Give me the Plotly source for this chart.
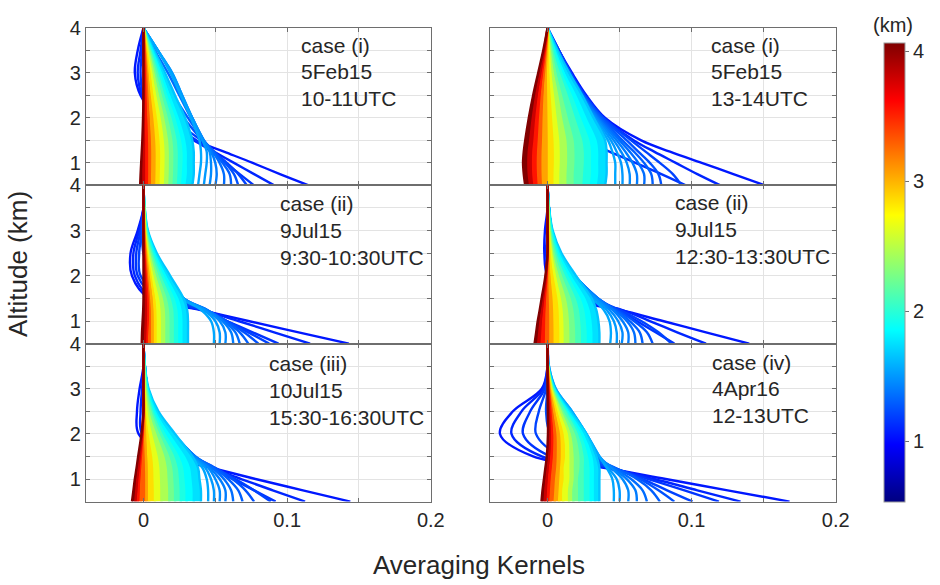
import plotly.graph_objects as go

# Altitude grid (km) on which every averaging-kernel row is tabulated
ALT = [0.5, 0.75, 1.0, 1.25, 1.5, 2.0, 2.5, 3.0, 3.5, 4.0]

# Retrieval level (km) of each kernel row, lowest first; sets the row colour
LEVELS = [1.05, 1.10, 1.15, 1.20, 1.25, 1.30, 1.35, 1.40, 1.45, 1.50, 1.55,
          1.65, 1.75, 1.85, 1.95, 2.10, 2.25, 2.45, 2.65, 2.85, 3.05, 3.30,
          3.55, 3.80, 4.05]

# Averaging-kernel rows, one list per retrieval level (values at ALT)
AK_5FEB15_10_11 = [
    [0.115, 0.095, 0.076, 0.056, 0.036, 0.010, -0.002, -0.006, -0.004, 0.0],
    [0.091, 0.077, 0.063, 0.049, 0.035, 0.008, -0.001, -0.004, -0.002, 0.0],
    [0.077, 0.067, 0.057, 0.047, 0.037, 0.012, 0.000, -0.002, -0.001, 0.0],
    [0.072, 0.066, 0.058, 0.049, 0.040, 0.020, 0.006, 0.001, 0.000, 0.0],
    [0.066, 0.063, 0.057, 0.049, 0.041, 0.028, 0.016, 0.008, 0.003, 0.0],
    [0.061, 0.060, 0.055, 0.049, 0.042, 0.031, 0.021, 0.013, 0.006, 0.0],
    [0.056, 0.056, 0.053, 0.048, 0.042, 0.033, 0.025, 0.017, 0.008, 0.0],
    [0.050, 0.051, 0.050, 0.047, 0.042, 0.034, 0.026, 0.019, 0.010, 0.0],
    [0.046, 0.047, 0.047, 0.046, 0.042, 0.034, 0.027, 0.020, 0.010, 0.0],
    [0.042, 0.043, 0.044, 0.044, 0.041, 0.034, 0.027, 0.020, 0.010, 0.0],
    [0.038, 0.039, 0.040, 0.040, 0.039, 0.033, 0.026, 0.019, 0.010, 0.0],
    [0.034, 0.035, 0.035, 0.035, 0.034, 0.029, 0.022, 0.015, 0.0075, 0.0],
    [0.030, 0.031, 0.031, 0.031, 0.030, 0.0255, 0.0195, 0.0135, 0.0066, 0.0],
    [0.027, 0.0275, 0.028, 0.028, 0.027, 0.023, 0.0175, 0.012, 0.006, 0.0],
    [0.024, 0.0245, 0.0247, 0.0247, 0.024, 0.0204, 0.0156, 0.0108, 0.0053, 0.0],
    [0.021, 0.0214, 0.0216, 0.0216, 0.021, 0.0179, 0.0137, 0.0095, 0.0046, 0.0],
    [0.018, 0.0184, 0.0185, 0.0185, 0.018, 0.0153, 0.0117, 0.0081, 0.004, 0.0],
    [0.015, 0.0153, 0.0155, 0.0155, 0.015, 0.0128, 0.0098, 0.0068, 0.0033, 0.0],
    [0.012, 0.0122, 0.0124, 0.0124, 0.012, 0.0102, 0.0078, 0.0054, 0.0026, 0.0],
    [0.009, 0.0092, 0.0093, 0.0093, 0.009, 0.0077, 0.0059, 0.0041, 0.002, 0.0],
    [0.006, 0.0061, 0.0062, 0.0062, 0.006, 0.0051, 0.0039, 0.0027, 0.0013, 0.0],
    [0.004, 0.0041, 0.0041, 0.0041, 0.004, 0.0034, 0.0026, 0.0018, 0.0009, 0.0],
    [0.002, 0.002, 0.002, 0.002, 0.002, 0.0017, 0.0013, 0.0009, 0.0004, 0.0],
    [0.000, 0.000, 0.000, 0.000, 0.000, 0.000, 0.000, 0.000, 0.000, 0.0],
    [-0.0023, -0.002, -0.0016, -0.0012, -0.0008, -0.0003, 0.0, 0.0, 0.0, 0.0],
]

AK_5FEB15_13_14 = [
    [0.151, 0.129, 0.107, 0.085, 0.065, 0.040, 0.027, 0.017, 0.008, 0.0],
    [0.120, 0.104, 0.089, 0.074, 0.060, 0.039, 0.026, 0.016, 0.008, 0.0],
    [0.096, 0.079, 0.061, 0.043, 0.026, 0.010, 0.002, 0.000, 0.000, 0.0],
    [0.093, 0.087, 0.078, 0.068, 0.058, 0.039, 0.026, 0.016, 0.008, 0.0],
    [0.079, 0.077, 0.071, 0.063, 0.055, 0.038, 0.025, 0.016, 0.007, 0.0],
    [0.073, 0.072, 0.067, 0.060, 0.052, 0.037, 0.025, 0.015, 0.007, 0.0],
    [0.067, 0.067, 0.063, 0.057, 0.050, 0.036, 0.024, 0.015, 0.007, 0.0],
    [0.062, 0.062, 0.059, 0.054, 0.048, 0.035, 0.024, 0.015, 0.007, 0.0],
    [0.057, 0.057, 0.055, 0.051, 0.046, 0.034, 0.023, 0.014, 0.007, 0.0],
    [0.052, 0.052, 0.051, 0.048, 0.044, 0.033, 0.022, 0.014, 0.006, 0.0],
    [0.047, 0.047, 0.047, 0.045, 0.042, 0.032, 0.022, 0.013, 0.006, 0.0],
    [0.040, 0.041, 0.041, 0.041, 0.040, 0.032, 0.024, 0.015, 0.007, 0.0],
    [0.035, 0.036, 0.036, 0.036, 0.035, 0.028, 0.021, 0.013, 0.006, 0.0],
    [0.030, 0.031, 0.031, 0.031, 0.030, 0.024, 0.018, 0.011, 0.005, 0.0],
    [0.025, 0.0255, 0.026, 0.026, 0.025, 0.020, 0.015, 0.0095, 0.0045, 0.0],
    [0.019, 0.019, 0.0195, 0.0195, 0.019, 0.015, 0.011, 0.007, 0.0034, 0.0],
    [0.014, 0.014, 0.0144, 0.0144, 0.014, 0.011, 0.0084, 0.0053, 0.0025, 0.0],
    [0.009, 0.009, 0.0093, 0.0093, 0.009, 0.0072, 0.0054, 0.0034, 0.0016, 0.0],
    [0.005, 0.005, 0.0052, 0.0052, 0.005, 0.004, 0.003, 0.0019, 0.0009, 0.0],
    [0.001, 0.001, 0.001, 0.001, 0.001, 0.0008, 0.0006, 0.0004, 0.0002, 0.0],
    [-0.003, -0.0033, -0.0034, -0.0033, -0.003, -0.0026, -0.002, -0.0013, -0.0006, 0.0],
    [-0.006, -0.0065, -0.0067, -0.0065, -0.006, -0.0051, -0.0039, -0.0025, -0.0012, 0.0],
    [-0.009, -0.0098, -0.010, -0.0098, -0.009, -0.0077, -0.0059, -0.0038, -0.0018, 0.0],
    [-0.012, -0.013, -0.0133, -0.013, -0.012, -0.0102, -0.0078, -0.005, -0.0024, 0.0],
    [-0.0155, -0.0165, -0.017, -0.0165, -0.0155, -0.013, -0.010, -0.0065, -0.003, 0.0],
]

AK_9JUL15_0930_1030 = [
    [0.143, 0.108, 0.073, 0.039, 0.004, -0.008, -0.009, -0.004, 0.0, 0.0],
    [0.116, 0.091, 0.066, 0.040, 0.006, -0.006, -0.007, -0.003, 0.0, 0.0],
    [0.094, 0.076, 0.058, 0.040, 0.010, -0.004, -0.005, -0.002, 0.0, 0.0],
    [0.0875, 0.073, 0.058, 0.041, 0.014, -0.002, -0.003, -0.001, 0.0, 0.0],
    [0.080, 0.070, 0.058, 0.043, 0.022, 0.006, 0.000, -0.001, 0.0, 0.0],
    [0.073, 0.067, 0.057, 0.044, 0.026, 0.012, 0.003, 0.000, 0.0, 0.0],
    [0.067, 0.064, 0.056, 0.044, 0.028, 0.016, 0.006, 0.001, 0.0, 0.0],
    [0.0625, 0.061, 0.055, 0.044, 0.028, 0.017, 0.008, 0.002, 0.0, 0.0],
    [0.057, 0.057, 0.053, 0.043, 0.028, 0.017, 0.008, 0.002, 0.0005, 0.0],
    [0.053, 0.053, 0.050, 0.042, 0.028, 0.017, 0.008, 0.002, 0.0005, 0.0],
    [0.049, 0.049, 0.047, 0.040, 0.027, 0.017, 0.008, 0.002, 0.0005, 0.0],
    [0.031, 0.031, 0.031, 0.0304, 0.0279, 0.0186, 0.0093, 0.0031, 0.0009, 0.0],
    [0.028, 0.028, 0.028, 0.0274, 0.0252, 0.0168, 0.0084, 0.0028, 0.0008, 0.0],
    [0.025, 0.025, 0.025, 0.0245, 0.0225, 0.015, 0.0075, 0.0025, 0.0008, 0.0],
    [0.022, 0.022, 0.022, 0.0216, 0.0198, 0.0132, 0.0066, 0.0022, 0.0007, 0.0],
    [0.019, 0.019, 0.019, 0.0186, 0.0171, 0.0114, 0.0057, 0.0019, 0.0006, 0.0],
    [0.016, 0.016, 0.016, 0.0157, 0.0144, 0.0096, 0.0048, 0.0016, 0.0005, 0.0],
    [0.013, 0.013, 0.013, 0.0127, 0.0117, 0.0078, 0.0039, 0.0013, 0.0004, 0.0],
    [0.010, 0.010, 0.010, 0.0098, 0.009, 0.006, 0.003, 0.001, 0.0003, 0.0],
    [0.008, 0.008, 0.008, 0.0078, 0.0072, 0.0048, 0.0024, 0.0008, 0.0002, 0.0],
    [0.006, 0.006, 0.006, 0.0059, 0.0054, 0.0036, 0.0018, 0.0006, 0.0002, 0.0],
    [0.004, 0.004, 0.004, 0.0039, 0.0036, 0.0024, 0.0012, 0.0004, 0.0001, 0.0],
    [0.002, 0.0025, 0.003, 0.003, 0.0028, 0.0016, 0.0006, 0.0002, 0.0, 0.0],
    [0.001, 0.0013, 0.0016, 0.0017, 0.0015, 0.0008, 0.0003, 0.0, 0.0, 0.0],
    [-0.0012, -0.001, -0.0006, -0.0002, 0.0, 0.0, 0.0, 0.0, 0.0, 0.0],
]

AK_9JUL15_1230_1330 = [
    [0.140, 0.110, 0.080, 0.050, 0.015, 0.000, -0.0022, -0.0018, 0.0, 0.0],
    [0.110, 0.090, 0.071, 0.051, 0.020, 0.002, -0.001, 0.0, 0.0, 0.0],
    [0.088, 0.075, 0.062, 0.049, 0.025, 0.006, 0.001, 0.0, 0.0, 0.0],
    [0.086, 0.077, 0.065, 0.050, 0.032, 0.012, 0.004, 0.001, 0.0, 0.0],
    [0.073, 0.069, 0.060, 0.048, 0.035, 0.018, 0.008, 0.002, 0.0005, 0.0],
    [0.066, 0.064, 0.057, 0.047, 0.035, 0.019, 0.009, 0.003, 0.001, 0.0],
    [0.061, 0.060, 0.055, 0.046, 0.035, 0.019, 0.009, 0.003, 0.001, 0.0],
    [0.056, 0.056, 0.052, 0.045, 0.035, 0.019, 0.009, 0.003, 0.001, 0.0],
    [0.0515, 0.052, 0.049, 0.043, 0.034, 0.019, 0.009, 0.003, 0.001, 0.0],
    [0.048, 0.048, 0.046, 0.041, 0.033, 0.018, 0.009, 0.003, 0.001, 0.0],
    [0.0435, 0.044, 0.043, 0.039, 0.031, 0.018, 0.008, 0.003, 0.001, 0.0],
    [0.036, 0.036, 0.0353, 0.0338, 0.0306, 0.0198, 0.0097, 0.0036, 0.0011, 0.0],
    [0.032, 0.032, 0.0314, 0.0301, 0.0272, 0.0176, 0.0086, 0.0032, 0.001, 0.0],
    [0.028, 0.028, 0.0274, 0.0263, 0.0238, 0.0154, 0.0076, 0.0028, 0.0008, 0.0],
    [0.024, 0.024, 0.0235, 0.0226, 0.0204, 0.0132, 0.0065, 0.0024, 0.0007, 0.0],
    [0.020, 0.020, 0.0196, 0.0188, 0.017, 0.011, 0.0054, 0.002, 0.0006, 0.0],
    [0.016, 0.016, 0.0157, 0.015, 0.0136, 0.0088, 0.0043, 0.0016, 0.0005, 0.0],
    [0.012, 0.012, 0.0118, 0.0113, 0.0102, 0.0066, 0.0032, 0.0012, 0.0004, 0.0],
    [0.009, 0.009, 0.0088, 0.0085, 0.0077, 0.005, 0.0024, 0.0009, 0.0003, 0.0],
    [0.005, 0.005, 0.0049, 0.0047, 0.0043, 0.0028, 0.0014, 0.0005, 0.0002, 0.0],
    [0.002, 0.002, 0.002, 0.0019, 0.0017, 0.0011, 0.0005, 0.0002, 0.0, 0.0],
    [-0.001, -0.0009, -0.0008, -0.0006, -0.0005, -0.0002, 0.0, 0.0, 0.0, 0.0],
    [-0.004, -0.0035, -0.003, -0.0024, -0.0018, -0.0007, 0.0, 0.0, 0.0, 0.0],
    [-0.0065, -0.0057, -0.0049, -0.0039, -0.003, -0.0011, 0.0, 0.0, 0.0, 0.0],
    [-0.009, -0.0079, -0.0068, -0.0054, -0.0041, -0.0015, 0.0, 0.0, 0.0, 0.0],
]

AK_10JUL15_1530_1630 = [
    [0.144, 0.111, 0.078, 0.047, 0.018, -0.0034, -0.0045, -0.0027, 0.0, 0.0],
    [0.1125, 0.090, 0.068, 0.047, 0.020, -0.001, -0.002, -0.001, 0.0, 0.0],
    [0.092, 0.077, 0.062, 0.047, 0.024, 0.003, 0.000, 0.0, 0.0, 0.0],
    [0.0886, 0.077, 0.064, 0.049, 0.030, 0.008, 0.002, 0.0, 0.0, 0.0],
    [0.077, 0.071, 0.062, 0.050, 0.035, 0.016, 0.006, 0.001, 0.0, 0.0],
    [0.069, 0.066, 0.059, 0.049, 0.036, 0.020, 0.008, 0.002, 0.0005, 0.0],
    [0.0625, 0.061, 0.056, 0.048, 0.036, 0.021, 0.009, 0.003, 0.001, 0.0],
    [0.057, 0.057, 0.053, 0.046, 0.036, 0.021, 0.009, 0.003, 0.001, 0.0],
    [0.053, 0.053, 0.050, 0.045, 0.035, 0.021, 0.009, 0.003, 0.001, 0.0],
    [0.049, 0.049, 0.047, 0.043, 0.034, 0.021, 0.009, 0.003, 0.001, 0.0],
    [0.045, 0.045, 0.044, 0.041, 0.033, 0.020, 0.009, 0.003, 0.001, 0.0],
    [0.040, 0.040, 0.039, 0.038, 0.034, 0.022, 0.0104, 0.0036, 0.001, 0.0],
    [0.035, 0.035, 0.0343, 0.0333, 0.030, 0.0193, 0.0091, 0.0032, 0.0009, 0.0],
    [0.030, 0.030, 0.0294, 0.0285, 0.0258, 0.0165, 0.0078, 0.0027, 0.0008, 0.0],
    [0.026, 0.026, 0.0255, 0.0247, 0.0224, 0.0143, 0.0068, 0.0023, 0.0007, 0.0],
    [0.022, 0.022, 0.0216, 0.0209, 0.0189, 0.0121, 0.0057, 0.002, 0.0006, 0.0],
    [0.018, 0.018, 0.0176, 0.0171, 0.0155, 0.0099, 0.0047, 0.0016, 0.0005, 0.0],
    [0.0125, 0.0125, 0.0123, 0.0119, 0.0108, 0.0069, 0.0033, 0.0011, 0.0003, 0.0],
    [0.008, 0.008, 0.0078, 0.0076, 0.0069, 0.0044, 0.0021, 0.0007, 0.0002, 0.0],
    [0.004, 0.004, 0.0039, 0.0038, 0.0034, 0.0022, 0.001, 0.0004, 0.0001, 0.0],
    [0.002, 0.002, 0.002, 0.0019, 0.0017, 0.0011, 0.0005, 0.0002, 0.0, 0.0],
    [-0.002, -0.0018, -0.0015, -0.0012, -0.0009, -0.0003, 0.0, 0.0, 0.0, 0.0],
    [-0.004, -0.0035, -0.003, -0.0024, -0.0018, -0.0007, 0.0, 0.0, 0.0, 0.0],
    [-0.0057, -0.005, -0.0043, -0.0034, -0.0026, -0.001, 0.0, 0.0, 0.0, 0.0],
    [-0.008, -0.007, -0.006, -0.0048, -0.0037, -0.0014, 0.0, 0.0, 0.0, 0.0],
]

AK_4APR16_12_13 = [
    [0.168, 0.125, 0.082, 0.039, -0.010, -0.033, -0.024, -0.004, 0.0, 0.0],
    [0.134, 0.104, 0.074, 0.041, -0.004, -0.025, -0.018, -0.003, 0.0, 0.0],
    [0.119, 0.095, 0.070, 0.043, 0.002, -0.017, -0.012, -0.002, 0.0, 0.0],
    [0.1007, 0.083, 0.066, 0.045, 0.010, -0.008, -0.006, -0.001, 0.0, 0.0],
    [0.088, 0.077, 0.064, 0.046, 0.020, 0.002, -0.001, 0.0, 0.0, 0.0],
    [0.078, 0.072, 0.062, 0.047, 0.028, 0.010, 0.002, 0.0, 0.0, 0.0],
    [0.069, 0.066, 0.058, 0.046, 0.033, 0.018, 0.007, 0.001, 0.0, 0.0],
    [0.062, 0.061, 0.055, 0.045, 0.035, 0.024, 0.013, 0.003, 0.0, 0.0],
    [0.056, 0.056, 0.052, 0.044, 0.036, 0.026, 0.016, 0.005, 0.0005, 0.0],
    [0.050, 0.050, 0.048, 0.042, 0.036, 0.027, 0.017, 0.0057, 0.001, 0.0],
    [0.046, 0.046, 0.045, 0.041, 0.036, 0.027, 0.017, 0.0057, 0.001, 0.0],
    [0.036, 0.036, 0.036, 0.036, 0.034, 0.027, 0.016, 0.005, 0.0005, 0.0],
    [0.033, 0.033, 0.033, 0.033, 0.032, 0.026, 0.015, 0.0048, 0.0005, 0.0],
    [0.030, 0.030, 0.030, 0.030, 0.029, 0.024, 0.014, 0.0045, 0.0005, 0.0],
    [0.026, 0.026, 0.026, 0.026, 0.026, 0.022, 0.013, 0.004, 0.0004, 0.0],
    [0.022, 0.022, 0.022, 0.023, 0.023, 0.020, 0.012, 0.0037, 0.0004, 0.0],
    [0.018, 0.018, 0.019, 0.019, 0.019, 0.017, 0.010, 0.0033, 0.0003, 0.0],
    [0.015, 0.015, 0.016, 0.016, 0.016, 0.015, 0.009, 0.003, 0.0003, 0.0],
    [0.011, 0.011, 0.012, 0.012, 0.013, 0.012, 0.0075, 0.0025, 0.0002, 0.0],
    [0.008, 0.0085, 0.009, 0.0095, 0.010, 0.0095, 0.006, 0.002, 0.0002, 0.0],
    [0.005, 0.0055, 0.006, 0.0068, 0.0072, 0.007, 0.0045, 0.0015, 0.0001, 0.0],
    [0.002, 0.0025, 0.003, 0.0038, 0.0045, 0.0048, 0.003, 0.001, 0.0001, 0.0],
    [0.000, 0.0005, 0.001, 0.0017, 0.0025, 0.003, 0.002, 0.0007, 0.0, 0.0],
    [-0.002, -0.0015, -0.0008, 0.0, 0.001, 0.0015, 0.001, 0.0003, 0.0, 0.0],
    [-0.0042, -0.0035, -0.0025, -0.0015, -0.0005, 0.0003, 0.0002, 0.0, 0.0, 0.0],
]

# Panels in reading order (row by row, left to right)
PANELS = [AK_5FEB15_10_11, AK_5FEB15_13_14,
          AK_9JUL15_0930_1030, AK_9JUL15_1230_1330,
          AK_10JUL15_1530_1630, AK_4APR16_12_13]

CASE_TEXT = [
    ["case (i)", "5Feb15", "10-11UTC"],
    ["case (i)", "5Feb15", "13-14UTC"],
    ["case (ii)", "9Jul15", "9:30-10:30UTC"],
    ["case (ii)", "9Jul15", "12:30-13:30UTC"],
    ["case (iii)", "10Jul15", "15:30-16:30UTC"],
    ["case (iv)", "4Apr16", "12-13UTC"],
]

X_TICKS = [0, 0.05, 0.1, 0.15, 0.2]
X_TICK_TEXT = ["0", "", "0.1", "", "0.2"]
Y_TICKS = [0.5, 1.0, 1.5, 2.0, 2.5, 3.0, 3.5, 4.0]
Y_TICK_TEXT = ["", "1", "", "2", "", "3", "", "4"]
CB_TICKS = [1, 2, 3, 4]
CB_MIN, CB_MAX = 0.53, 4.06

N_DISTINCT = 11   # lowest rows drawn as separate lines; the rest form the shaded fan

W, H = 940, 585
FONT = "Arial, Liberation Sans, sans-serif"
TXT = "#262626"
FRAME = "#6e6e6e"
GRID = "#e3e3e3"


def jet(v):
    """MATLAB-style jet colour for a level value."""
    f = min(max((v - CB_MIN) / (CB_MAX - CB_MIN), 0.0), 1.0)
    c = lambda t: min(max(1.5 - abs(4 * f - t), 0.0), 1.0)
    return "rgb({:.0f},{:.0f},{:.0f})".format(255 * c(3), 255 * c(2), 255 * c(1))


JET_SCALE = [[i / 32, jet(CB_MIN + (CB_MAX - CB_MIN) * i / 32)] for i in range(33)]

# pixel boxes of the panels
COL_X = [(87.3, 437.3), (497.3, 848.3)]
ROW_Y = [(17.3, 177.7), (177.7, 339.0), (339.0, 500.0)]
TEXT_POS = [(304, 35, 27), (720, 35, 27), (282, 196, 27.5),
            (683, 195, 27.5), (271, 359, 27.5), (721, 358, 27)]

fig = go.Figure()
layout = dict(width=W, height=H, autosize=False,
              margin=dict(l=0, r=0, t=0, b=0),
              paper_bgcolor="white", plot_bgcolor="white",
              showlegend=False, hovermode=False,
              font=dict(family=FONT, color=TXT, size=20))
annotations = []

for p, rows in enumerate(PANELS):
    r, c = divmod(p, 2)
    sfx = "" if p == 0 else str(p + 1)
    x0, x1 = COL_X[c]
    y0, y1 = ROW_Y[r]
    layout["xaxis" + sfx] = dict(
        domain=[x0 / W, x1 / W], range=[-0.04, 0.2], anchor="y" + sfx,
        tickvals=X_TICKS, ticktext=X_TICK_TEXT, showticklabels=(r == 2),
        ticks="inside", ticklen=4, tickcolor=FRAME, showgrid=True,
        gridcolor=GRID, gridwidth=1, zeroline=False, showline=True,
        linecolor=FRAME, linewidth=1, mirror="ticks",
        tickfont=dict(size=20, color=TXT, family=FONT))
    layout["yaxis" + sfx] = dict(
        domain=[1 - y1 / H, 1 - y0 / H], range=[0.5, 4.0], anchor="x" + sfx,
        tickvals=Y_TICKS, ticktext=Y_TICK_TEXT, showticklabels=(c == 0),
        ticks="inside", ticklen=4, tickcolor=FRAME, showgrid=True,
        gridcolor=GRID, gridwidth=1, zeroline=False, showline=True,
        linecolor=FRAME, linewidth=1, mirror="ticks",
        tickfont=dict(size=20, color=TXT, family=FONT))
    for k, (lev, row) in enumerate(zip(LEVELS, rows)):
        col = jet(lev)
        shade = k > N_DISTINCT
        fig.add_trace(go.Scatter(
            x=row, y=ALT, mode="lines", xaxis="x" + sfx, yaxis="y" + sfx,
            line=dict(color=col, width=2.4, shape="spline", smoothing=1.0),
            fill="tonextx" if shade else "none",
            fillcolor=col if shade else None,
            hoverinfo="skip"))
    tx, ty, dy = TEXT_POS[p]
    for j, line in enumerate(CASE_TEXT[p]):
        annotations.append(dict(
            text=line, x=tx / W, y=1 - (ty + j * dy) / H, xref="paper",
            yref="paper", xanchor="left", yanchor="middle", showarrow=False,
            font=dict(size=21, color=TXT, family=FONT)))

# colour bar (levels in km)
fig.add_trace(go.Scatter(
    x=[0] * len(LEVELS), y=LEVELS, mode="markers", hoverinfo="skip",
    marker=dict(color=LEVELS, colorscale=JET_SCALE, cmin=CB_MIN, cmax=CB_MAX,
                opacity=0, size=1, showscale=True,
                colorbar=dict(x=897.7 / W, xanchor="left", xpad=0,
                              y=1 - 267.0 / H, yanchor="middle", ypad=0,
                              len=468.0 / H, lenmode="fraction",
                              thickness=21, thicknessmode="pixels",
                              outlinewidth=1, outlinecolor="#9a9a9a",
                              tickvals=CB_TICKS, ticks="outside", ticklen=4,
                              tickcolor=FRAME,
                              tickfont=dict(size=20, color=TXT, family=FONT)))))

annotations += [
    dict(text="(km)", x=906 / W, y=1 - 14 / H, xref="paper", yref="paper",
         xanchor="center", yanchor="middle", showarrow=False,
         font=dict(size=20, color=TXT, family=FONT)),
    dict(text="Averaging Kernels", x=486 / W, y=1 - 565 / H, xref="paper",
         yref="paper", xanchor="center", yanchor="middle", showarrow=False,
         font=dict(size=26, color=TXT, family=FONT)),
    dict(text="Altitude (km)", x=18 / W, y=1 - 258 / H, xref="paper",
         yref="paper", xanchor="center", yanchor="middle", showarrow=False,
         textangle=-90, font=dict(size=26, color=TXT, family=FONT)),
]
layout["annotations"] = annotations
fig.update_layout(**layout)
fig.write_html("out.html")
